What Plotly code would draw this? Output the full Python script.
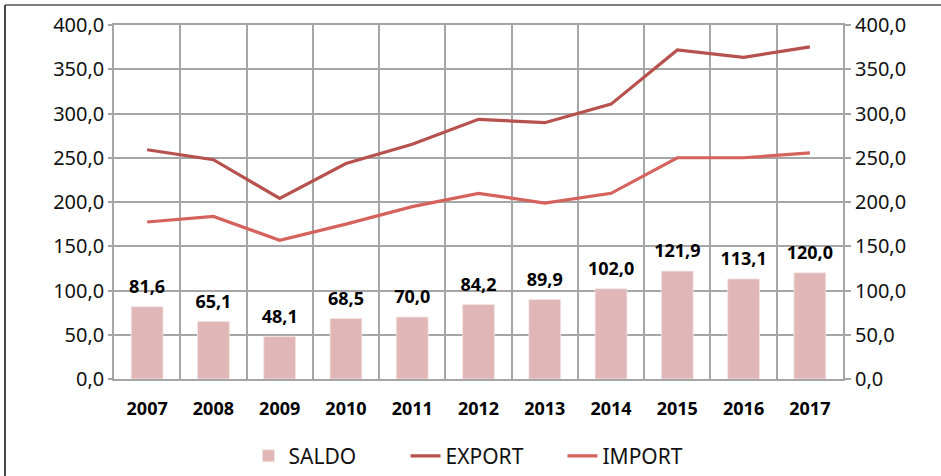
import plotly.graph_objects as go

years = ["2007", "2008", "2009", "2010", "2011", "2012", "2013", "2014", "2015", "2016", "2017"]
saldo = [81.6, 65.1, 48.1, 68.5, 70.0, 84.2, 89.9, 102.0, 121.9, 113.1, 120.0]
export = [259.0, 247.8, 204.0, 243.5, 265.2, 293.4, 289.6, 310.6, 371.8, 363.5, 375.2]
imp = [177.4, 183.7, 156.7, 175.0, 194.8, 209.8, 198.8, 209.8, 250.0, 250.0, 255.4]
tick_vals = [0, 50, 100, 150, 200, 250, 300, 350, 400]

FONT = "Noto Sans"
GRID = "#A6A6A6"

fig = go.Figure()
fig.add_trace(go.Bar(x=years, y=saldo, name="SALDO", marker=dict(color="#E0B7B6", line=dict(width=0.8, color="#F4E4E4")),
                     yaxis="y"))
fig.add_trace(go.Scatter(x=years, y=export, name="EXPORT", mode="lines",
                         line=dict(color="#B6514D", width=3.2), yaxis="y"))
fig.add_trace(go.Scatter(x=years, y=imp, name="IMPORT", mode="lines",
                         line=dict(color="#D5625D", width=3.2), yaxis="y2"))
fig.add_trace(go.Scatter(x=years, y=saldo, mode="markers+text", showlegend=False, hoverinfo="skip",
                         marker=dict(size=13, color="rgba(0,0,0,0)"),
                         text=[f"{v:.1f}".replace(".", ",") for v in saldo], textposition="top center",
                         textfont=dict(family=FONT, size=18, color="#000", weight="bold"), yaxis="y"))

fig.update_layout(
    width=941, height=476,
    margin=dict(l=114, r=98, t=25, b=97, autoexpand=False),
    paper_bgcolor="white", plot_bgcolor="white",
    separators=",.",
    bargap=0.52,
    font=dict(family=FONT, color="#000"),
    xaxis=dict(type="category", range=[-0.5, 10.5], tickson="boundaries", showgrid=True, gridcolor=GRID, gridwidth=1.5,
               showline=True, mirror=True, linecolor=GRID, linewidth=1.5, ticks="", automargin=False,
               tickfont=dict(family=FONT, size=18, color="#000", weight="bold"), ticklabelstandoff=13),
    yaxis=dict(range=[0, 400], tickvals=tick_vals, tickformat=".1f", showgrid=True, gridcolor=GRID, gridwidth=1.5,
               showline=True, mirror=True, linecolor=GRID, linewidth=1.5, zeroline=False, automargin=False,
               ticks="outside", ticklen=4, tickcolor=GRID, tickwidth=1.5,
               tickfont=dict(family=FONT, size=20, color="#111")),
    yaxis2=dict(range=[0, 400], tickvals=tick_vals, tickformat=".1f", overlaying="y", side="right", showgrid=False,
                zeroline=False, ticks="outside", ticklen=7, tickcolor=GRID, tickwidth=1.5, automargin=False,
                tickfont=dict(family=FONT, size=20, color="#111")),
    legend=dict(orientation="h", x=0.1845, xanchor="left", y=-0.218, yanchor="middle",
                font=dict(family=FONT, size=21, color="#111"), entrywidth=112, bgcolor="rgba(0,0,0,0)"),
    showlegend=True,
)

fig.add_shape(type="line", xref="paper", yref="paper", x0=-0.1495, x1=-0.1495, y0=-0.3, y1=1.0565,
              line=dict(color="#1a1a1a", width=1.6))
fig.add_shape(type="line", xref="paper", yref="paper", x0=-0.1495, x1=1.16, y0=1.0565, y1=1.0565,
              line=dict(color="#555555", width=1.3))

fig.write_html("out.html", config={"displayModeBar": False},
               post_script="document.body.style.margin='0';document.body.style.overflow='hidden';")
